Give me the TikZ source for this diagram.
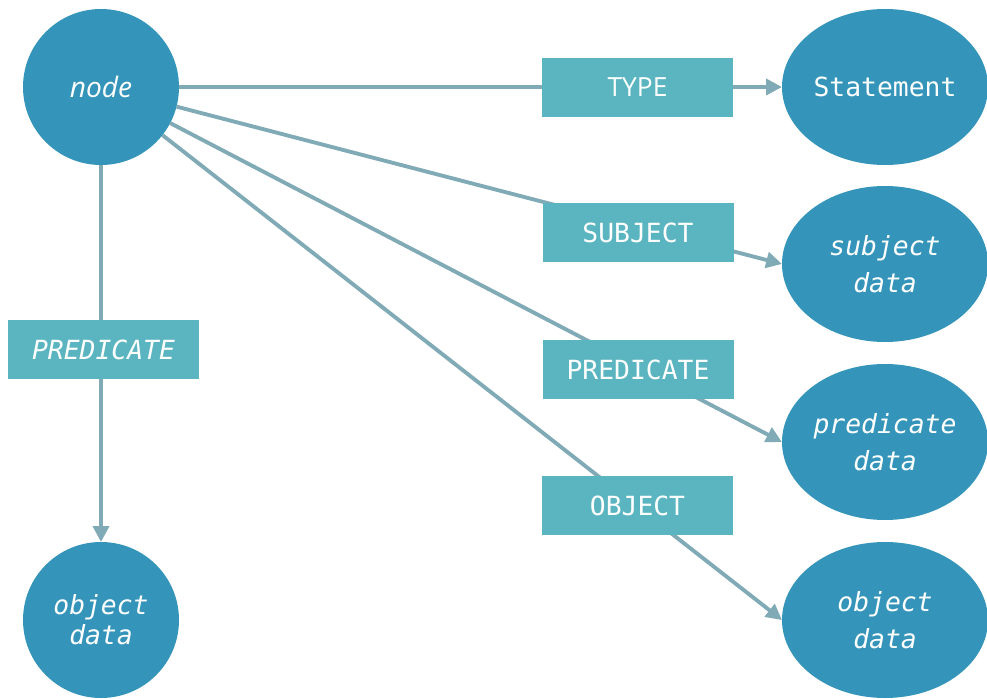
\documentclass[tikz,border=0pt]{standalone}
\usepackage{fontspec}
\setmainfont{Open Sans}
\setmonofont{DejaVu Sans Mono}[ItalicFont={DejaVu Sans Mono Oblique}]
\usetikzlibrary{arrows.meta,shapes.geometric}
\definecolor{nodefill}{HTML}{3494BA}
\definecolor{tagfill}{HTML}{5AB5C0}
\definecolor{linkcolor}{HTML}{80AAB5}
\tikzset{
  rdf circle/.style={circle,fill=nodefill,text=white,minimum size=3.12cm,inner sep=0pt,outer sep=0pt,align=center},
  rdf value/.style={ellipse,fill=nodefill,text=white,minimum width=4.12cm,minimum height=3.12cm,inner sep=0pt,outer sep=0pt,align=center,font=\fontsize{15}{21}\selectfont\ttfamily\itshape},
  rdf tag/.style={fill=tagfill,text=white,minimum width=3.82cm,minimum height=1.18cm,inner sep=0pt,font=\fontsize{15}{18}\selectfont\ttfamily},
  rdf link/.style={linkcolor,line width=2.2pt},
  rdf arrow/.style={rdf link,-{Triangle[length=9pt,width=9pt]}}
}

\begin{document}
\begin{tikzpicture}
  \useasboundingbox (0,0) rectangle (19.74,13.96);
  % resources
  \node[rdf circle,font=\fontsize{16}{18}\selectfont\itshape] (node) at (2.02,12.22) {node};
  \node[rdf circle,font=\fontsize{15}{17}\selectfont\ttfamily\itshape] (objl) at (2.02,1.56) {object\\data};
  \node[rdf value,font=\fontsize{15}{21}\selectfont\ttfamily] (stmt) at (17.7,12.22) {Statement};
  \node[rdf value] (subj) at (17.7,8.68) {subject\\data};
  \node[rdf value] (pred) at (17.7,5.12) {predicate\\data};
  \node[rdf value] (objr) at (17.7,1.56) {object\\data};
  % links
  \draw[rdf arrow] (node) -- (stmt.west);
  \draw[rdf arrow] (node) -- (subj.west);
  \draw[rdf arrow] (node) -- (pred.west);
  \draw[rdf arrow] (node) -- (objr.west);
  \draw[rdf arrow] (node) -- (objl);
  % property tags
  \node[rdf tag,font=\fontsize{15}{18}\selectfont] (type) at (12.75,12.21) {TYPE};
  \node[rdf tag] (subject) at (12.76,9.31) {SUBJECT};
  \node[rdf tag] (predicate) at (12.76,6.57) {PREDICATE};
  \node[rdf tag] (object) at (12.75,3.85) {OBJECT};
  \node[rdf tag,font=\fontsize{15}{18}\selectfont\ttfamily\itshape] (predl) at (2.07,6.97) {PREDICATE};
\end{tikzpicture}
\end{document}
